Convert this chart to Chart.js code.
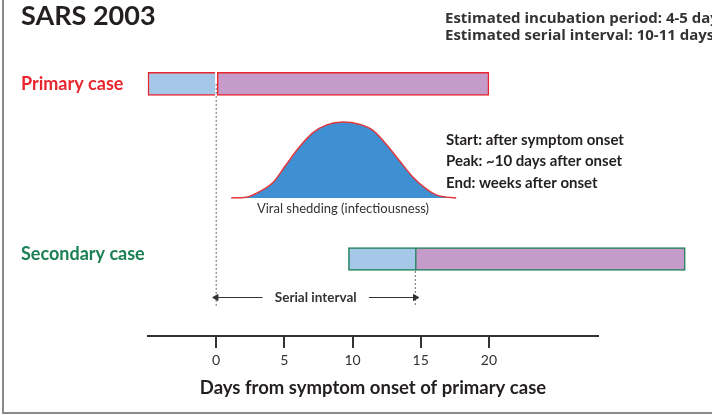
<!DOCTYPE html>
<html>
<head>
<meta charset="utf-8">
<title>SARS 2003</title>
<script src="https://cdn.jsdelivr.net/npm/chart.js@4.4.1/dist/chart.umd.min.js"></script>
<style>
  html, body { margin: 0; padding: 0; background: #fff; }
  canvas { display: block; }
</style>
</head>
<body>
<canvas id="sarsChart" width="712" height="415"></canvas>
<script>
// x axis ticks (days from symptom onset of primary case)
const dayTicks = [0, 5, 10, 15, 20];

// cases (rows on a hidden y scale)
const caseNames = ["Primary case", "Secondary case"];
const caseRows = [6.55, 2];
const caseColors = ["#e8262f", "#1b7f55"];
// incubation (blue) and symptomatic (purple) periods, in days
const incubation = [[-5, 0], [9.7, 14.6]];
const symptomatic = [[0, 20], [14.6, 34.4]];

// viral shedding (relative level)
const sheddingDays = [1.1, 2.2, 3.15, 4.2, 5.1, 6.1, 7.1, 8.05, 9.3, 10.5, 11.5, 12.45, 13.4, 14.4, 15.4, 16.3, 17.6];
const sheddingLevel = [0, 0.01, 0.08, 0.21, 0.43, 0.67, 0.86, 0.96, 1.0, 0.97, 0.89, 0.71, 0.50, 0.28, 0.12, 0.03, 0];

// serial interval
const serialStart = 0;
const serialEnd = 14.6;
const arrowGap = [3.4, 11.2];
const intervalRow = 1.0;
const dashBottom = 0.78;

const ink = "#231f20";
const FONT = "Lato, 'Open Sans', sans-serif";

const textPlugin = {
    id: "diagramText",
    beforeDraw(chart) {
        const c = chart.ctx;
        c.save();
        c.fillStyle = "#fff";
        c.fillRect(0, 0, chart.width, chart.height);
        c.strokeStyle = "#8a8a8a";
        c.lineWidth = 2;
        c.beginPath();
        c.moveTo(3, 0);
        c.lineTo(3, 413);
        c.lineTo(chart.width, 413);
        c.stroke();
        c.restore();
    },
    afterDraw(chart) {
        const c = chart.ctx;
        const x = chart.scales.x, y = chart.scales.y, y2 = chart.scales.y2;
        c.save();
        c.textBaseline = "middle";
        c.textAlign = "left";

        c.fillStyle = ink;
        c.font = "bold 27px " + FONT;
        c.fillText("SARS 2003", 21, 16);

        c.fillStyle = "#333";
        c.font = "bold 15px 'Open Sans', sans-serif";
        c.fillText("Estimated incubation period: 4-5 days", 445, 19);
        c.fillText("Estimated serial interval: 10-11 days", 445, 36);

        c.font = "bold 18px " + FONT;
        caseNames.forEach((name, i) => {
            c.fillStyle = caseColors[i];
            c.fillText(name, 21, y.getPixelForValue(caseRows[i]) - (i ? 5 : 0));
        });

        c.fillStyle = ink;
        c.font = "bold 15px " + FONT;
        c.fillText("Start: after symptom onset", 446, 140);
        c.fillText("Peak: ~10 days after onset", 446, 161);
        c.fillText("End: weeks after onset", 446, 183);

        c.textAlign = "center";
        c.fillStyle = "#333";
        c.font = "13px " + FONT;
        c.fillText("Viral shedding (infectiousness)", x.getPixelForValue(9.3), y2.getPixelForValue(0) + 11);

        c.font = "bold 13.5px " + FONT;
        c.fillText("Serial interval", (x.getPixelForValue(arrowGap[0]) + x.getPixelForValue(arrowGap[1])) / 2,
            y.getPixelForValue(intervalRow));
        c.restore();
    }
};

function dotted(day, top) {
    return {
        type: "line",
        data: [{ x: day, y: top }, { x: day, y: dashBottom }],
        borderColor: "#666",
        borderWidth: 1,
        borderDash: [2, 2],
        pointRadius: 0,
        order: 5
    };
}

function arrow(from, to, headAtStart) {
    return {
        type: "line",
        data: [{ x: from, y: intervalRow }, { x: to, y: intervalRow }],
        borderColor: "#333",
        backgroundColor: "#333",
        borderWidth: 1,
        pointStyle: "triangle",
        pointRadius: headAtStart ? [3.5, 0] : [0, 3.5],
        pointRotation: headAtStart ? [-90, 0] : [0, 90],
        order: 4
    };
}

function bars(periods, fill, border) {
    return {
        type: "bar",
        indexAxis: "y",
        data: caseRows.map((r, i) => ({ x: periods[i], y: r })),
        backgroundColor: fill,
        borderColor: caseColors,
        borderWidth: border,
        borderSkipped: false,
        barThickness: 23,
        grouped: false,
        clip: false,
        order: 1
    };
}

new Chart(document.getElementById("sarsChart"), {
    data: {
        datasets: [
            bars(incubation, "#a6c8e8", { top: 1.5, bottom: 1.5, left: 1.5, right: 0 }),
            bars(symptomatic, "#c59cc9", 1.5),
            {
                type: "line",
                data: sheddingDays.map((d, i) => ({ x: d, y: sheddingLevel[i] })),
                yAxisID: "y2",
                borderColor: "#e0393e",
                borderWidth: 1.5,
                backgroundColor: "#3f8fd3",
                fill: "origin",
                cubicInterpolationMode: "monotone",
                pointRadius: 0,
                order: 3
            },
            dotted(serialStart, caseRows[0]),
            dotted(serialEnd, caseRows[1]),
            arrow(serialStart, arrowGap[0], true),
            arrow(arrowGap[1], serialEnd, false)
        ]
    },
    options: {
        responsive: false,
        animation: false,
        devicePixelRatio: 1,
        layout: { autoPadding: false, padding: { left: 148, right: 114, top: 28, bottom: 16 } },
        plugins: { legend: { display: false }, tooltip: { enabled: false } },
        scales: {
            x: {
                type: "linear",
                min: -5,
                max: 28,
                afterBuildTicks: (s) => { s.ticks = dayTicks.map(v => ({ value: v })); },
                grid: { drawOnChartArea: false, drawTicks: true, tickLength: 12, color: "#333", lineWidth: 2 },
                border: { display: true, color: "#333", width: 2 },
                ticks: { font: { size: 14, family: FONT }, color: "#333", padding: 4, autoSkip: false, maxRotation: 0 },
                title: { display: true, text: "Days from symptom onset of primary case",
                    font: { size: 18.5, weight: "bold", family: FONT }, color: ink, padding: { top: 4, bottom: 0 } }
            },
            y: { type: "linear", display: false, offset: false, min: 0, max: 8 },
            y2: { type: "linear", display: false, min: -1.82, max: 2.24 }
        }
    },
    plugins: [textPlugin]
});
</script>
</body>
</html>
